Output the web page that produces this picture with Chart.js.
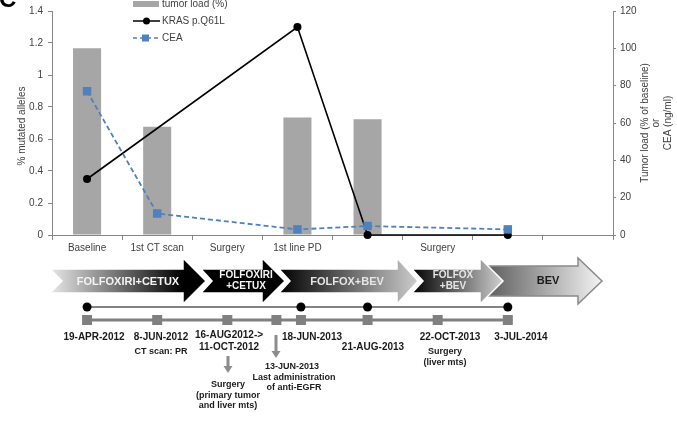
<!DOCTYPE html>
<html>
<head>
<meta charset="utf-8">
<script src="https://cdn.jsdelivr.net/npm/chart.js@4.4.1/dist/chart.umd.min.js"></script>
<style>
  html, body { margin: 0; padding: 0; background: #fff; }
  #chart { display: block; }
</style>
</head>
<body>
<canvas id="chart" width="677" height="424"></canvas>
<script>
// categories along the x axis (blank ones are unlabeled sampling points)
const categories = ['Baseline', '1st CT scan', 'Surgery', '1st line PD', '', 'Surgery', '', ''];
// tumor load (% of baseline) - right axis
const tumorLoad = [100, 58, null, 63, 62, null, null, null];
// KRAS p.Q61L % mutated alleles - left axis
const krasQ61L = [0.35, null, null, 1.30, 0, null, 0, null];
// CEA ng/ml - right axis
const cea = [77, 11.5, null, 3, 4.8, null, 3, null];

const leftTicks = [0, 0.2, 0.4, 0.6, 0.8, 1, 1.2, 1.4];
const rightTicks = [0, 20, 40, 60, 80, 100, 120];

// treatment lines shown as arrows under the chart
const therapies = [['FOLFOXIRI+CETUX'], ['FOLFOXIRI', '+CETUX'], ['FOLFOX+BEV'], ['FOLFOX', '+BEV'], ['BEV']];
// timeline: plasma samples (circles) and visits (squares), in category units
const plasmaSamples = [0, 3.05, 4, 6];
const visits = [0, 1, 2, 2.7, 3.05, 4, 5, 6];

const FONT = "'Liberation Sans', Arial, sans-serif";
const AXIS = '#868686';
const TXT = '#404040';
const BAR = '#A6A6A6';
const BLUE = '#4F81BD';

function drawArrow(ctx, a) {
    const yt = a.bodyTop, yb = a.bodyBottom, ht = 258, hb = 304, ym = 281;
    ctx.beginPath();
    ctx.moveTo(a.l, yt);
    ctx.lineTo(a.hb, yt);
    ctx.lineTo(a.hb, ht);
    ctx.lineTo(a.tip, ym);
    ctx.lineTo(a.hb, hb);
    ctx.lineTo(a.hb, yb);
    ctx.lineTo(a.l, yb);
    ctx.lineTo(a.l + a.notch, ym);
    ctx.closePath();
    const g = ctx.createLinearGradient(a.l, 0, a.tip, 0);
    g.addColorStop(0, a.c0);
    g.addColorStop(a.stop || 1, a.c1);
    g.addColorStop(1, a.c1);
    ctx.fillStyle = g;
    ctx.fill();
    ctx.lineWidth = 1.5;
    ctx.strokeStyle = a.stroke;
    ctx.stroke();
}

function downArrow(ctx, x, y0, y1) {
    ctx.fillStyle = '#8c8c8c';
    ctx.fillRect(x - 1.5, y0, 3, y1 - y0 - 6);
    ctx.beginPath();
    ctx.moveTo(x - 4.5, y1 - 7);
    ctx.lineTo(x + 4.5, y1 - 7);
    ctx.lineTo(x, y1);
    ctx.closePath();
    ctx.fill();
}

function text(ctx, str, x, y, font, color) {
    ctx.font = font;
    ctx.fillStyle = color;
    ctx.textAlign = 'center';
    ctx.textBaseline = 'middle';
    ctx.fillText(str, x, y);
}

const extras = {
    id: 'extras',
    afterDraw(chart) {
        const ctx = chart.ctx;
        const xs = chart.scales.x;
        const top = chart.chartArea.top, bottom = chart.chartArea.bottom;
        const mid = (top + bottom) / 2;
        ctx.save();

        // panel letter, mostly cut off
        ctx.font = 'bold 24px ' + FONT;
        ctx.fillStyle = '#000';
        ctx.textAlign = 'left';
        ctx.textBaseline = 'alphabetic';
        ctx.fillText('C', -1, 7);

        // axis titles
        ctx.fillStyle = TXT;
        ctx.font = '10px ' + FONT;
        ctx.textAlign = 'center';
        ctx.textBaseline = 'middle';
        ctx.save();
        ctx.translate(22, mid + 3);
        ctx.rotate(-Math.PI / 2);
        ctx.fillText('% mutated alleles', 0, 0);
        ctx.restore();
        const rTitle = ['Tumor load (% of baseline)', 'or', 'CEA (ng/ml)'];
        rTitle.forEach((t, i) => {
            ctx.save();
            ctx.translate(645 + i * 11.5, mid);
            ctx.rotate(-Math.PI / 2);
            ctx.fillText(t, 0, 0);
            ctx.restore();
        });

        // legend
        ctx.textAlign = 'left';
        ctx.fillStyle = BAR;
        ctx.fillRect(133, 1, 26, 6);
        ctx.fillStyle = TXT;
        ctx.fillText('tumor load (%)', 162, 4);
        ctx.strokeStyle = '#000';
        ctx.lineWidth = 1.5;
        ctx.beginPath(); ctx.moveTo(133, 21); ctx.lineTo(160, 21); ctx.stroke();
        ctx.fillStyle = '#000';
        ctx.beginPath(); ctx.arc(146.5, 21, 3.5, 0, Math.PI * 2); ctx.fill();
        ctx.fillStyle = TXT;
        ctx.fillText('KRAS p.Q61L', 162, 21);
        ctx.strokeStyle = BLUE;
        ctx.setLineDash([4, 3]);
        ctx.beginPath(); ctx.moveTo(133, 38); ctx.lineTo(160, 38); ctx.stroke();
        ctx.setLineDash([]);
        ctx.fillStyle = BLUE;
        ctx.fillRect(142, 34.5, 7, 7);
        ctx.fillStyle = TXT;
        ctx.fillText('CEA', 162, 38);

        // therapy arrows
        const arrows = [
            { l: 50, notch: 12, hb: 183, tip: 206, c0: '#e8e8e8', c1: '#000', stop: 0.85, stroke: '#fff', bodyTop: 269, bodyBottom: 293 },
            { l: 201, notch: 11, hb: 262, tip: 285, c0: '#000', c1: '#000', stroke: '#fff', bodyTop: 269, bodyBottom: 293 },
            { l: 279, notch: 11, hb: 397, tip: 418, c0: '#000', c1: '#cdcdcd', stroke: '#fff', bodyTop: 269, bodyBottom: 293 },
            { l: 488, notch: 0, hb: 578, tip: 602, c0: '#5e5e5e', c1: '#f4f4f4', stroke: '#8a8a8a', bodyTop: 266, bodyBottom: 296 },
            { l: 412, notch: 11, hb: 480, tip: 503, c0: '#000', c1: '#d0d0d0', stroke: '#fff', bodyTop: 269, bodyBottom: 293 }
        ];
        arrows.forEach(a => drawArrow(ctx, a));
        const labelPos = [[128, 282], [246, 275], [347, 282], [453, 275], [548, 281]];
        const labelCol = ['#f4f4f4', '#f4f4f4', '#e6e6e6', '#e6e6e6', '#1a1a1a'];
        therapies.forEach((lines, i) => {
            const f = lines.length > 1 ? 'bold 10px ' : 'bold 11px ';
            lines.forEach((t, j) => {
                text(ctx, t, labelPos[i][0], labelPos[i][1] + j * 11.5, f + FONT, labelCol[i]);
            });
        });

        // timeline lines
        const px = v => xs.getPixelForValue(v);
        ctx.strokeStyle = '#808080';
        ctx.lineWidth = 3;
        ctx.beginPath(); ctx.moveTo(px(visits[0]), 320); ctx.lineTo(px(visits[visits.length - 1]), 320); ctx.stroke();
        ctx.strokeStyle = '#5a5a5a';
        ctx.lineWidth = 1.5;
        ctx.beginPath(); ctx.moveTo(px(plasmaSamples[0]), 307); ctx.lineTo(px(plasmaSamples[plasmaSamples.length - 1]), 307); ctx.stroke();
        ctx.fillStyle = '#808080';
        visits.forEach(v => ctx.fillRect(px(v) - 5, 315, 10, 10));
        ctx.fillStyle = '#000';
        plasmaSamples.forEach(v => { ctx.beginPath(); ctx.arc(px(v), 307, 4.5, 0, Math.PI * 2); ctx.fill(); });

        // timeline annotations
        const B10 = 'bold 10px ' + FONT, B9 = 'bold 9px ' + FONT;
        const dark = '#1a1a1a';
        text(ctx, '19-APR-2012', 94, 337, B10, dark);
        text(ctx, '8-JUN-2012', 161, 337, B10, dark);
        text(ctx, 'CT scan: PR', 161, 352, B9, dark);
        text(ctx, '16-AUG2012->', 229, 335, B10, dark);
        text(ctx, '11-OCT-2012', 229, 347, B10, dark);
        downArrow(ctx, 228, 356, 373);
        text(ctx, 'Surgery', 228, 385, B9, dark);
        text(ctx, '(primary tumor', 228, 396, B9, dark);
        text(ctx, 'and liver mts)', 228, 406, B9, dark);
        downArrow(ctx, 276, 335, 358);
        text(ctx, '13-JUN-2013', 292, 367, B9, dark);
        text(ctx, 'Last administration', 294, 378, B9, dark);
        text(ctx, 'of anti-EGFR', 294, 388, B9, dark);
        text(ctx, '18-JUN-2013', 312, 337, B10, dark);
        text(ctx, '21-AUG-2013', 373, 347, B10, dark);
        text(ctx, '22-OCT-2013', 450, 337, B10, dark);
        text(ctx, 'Surgery', 445, 352, B9, dark);
        text(ctx, '(liver mts)', 445, 363, B9, dark);
        text(ctx, '3-JUL-2014', 521, 337, B10, dark);

        ctx.restore();
    }
};

document.addEventListener('DOMContentLoaded', function() {
    const ctx = document.getElementById('chart').getContext('2d');
    new Chart(ctx, {
        type: 'bar',
        data: {
            labels: categories,
            datasets: [{
                label: 'CEA',
                type: 'line',
                data: cea,
                yAxisID: 'yR',
                borderColor: BLUE,
                backgroundColor: BLUE,
                borderWidth: 1.8,
                borderDash: [5, 3],
                pointStyle: 'rect',
                pointRadius: 6,
                pointBorderWidth: 0,
                spanGaps: true,
                clip: false,
                order: 1
            }, {
                label: 'KRAS p.Q61L',
                type: 'line',
                data: krasQ61L,
                yAxisID: 'yL',
                borderColor: '#000',
                backgroundColor: '#000',
                borderWidth: 1.6,
                pointRadius: 4,
                pointBorderWidth: 0,
                spanGaps: true,
                clip: false,
                order: 2
            }, {
                label: 'tumor load (%)',
                data: tumorLoad,
                yAxisID: 'yR',
                backgroundColor: BAR,
                barPercentage: 0.4,
                categoryPercentage: 1,
                order: 3
            }]
        },
        options: {
            responsive: false,
            animation: false,
            layout: { padding: { top: 10, left: 0, right: 0, bottom: 169 } },
            plugins: {
                legend: { display: false },
                tooltip: { enabled: false }
            },
            scales: {
                x: {
                    offset: true,
                    grid: { display: true, offset: true, drawOnChartArea: false, tickLength: 5, color: AXIS },
                    border: { color: AXIS },
                    ticks: { autoSkip: false, maxRotation: 0, padding: 2, color: TXT, font: { size: 10, family: FONT } },
                    afterFit: s => { s.height = 20; }
                },
                yL: {
                    position: 'left',
                    min: 0,
                    max: 1.4,
                    afterBuildTicks: s => { s.ticks = leftTicks.map(v => ({ value: v })); },
                    grid: { drawOnChartArea: false, tickLength: 4, color: AXIS },
                    border: { color: AXIS },
                    ticks: { padding: 5, color: TXT, font: { size: 10, family: FONT }, callback: v => String(v) },
                    afterFit: s => { s.width = 52; }
                },
                yR: {
                    position: 'right',
                    min: 0,
                    max: 120,
                    afterBuildTicks: s => { s.ticks = rightTicks.map(v => ({ value: v })); },
                    grid: { drawOnChartArea: false, tickLength: 3, color: AXIS },
                    border: { color: AXIS },
                    ticks: { padding: 4, color: TXT, font: { size: 10, family: FONT }, callback: v => String(v) },
                    afterFit: s => { s.width = 64; }
                }
            }
        },
        plugins: [extras]
    });
});
</script>
</body>
</html>
